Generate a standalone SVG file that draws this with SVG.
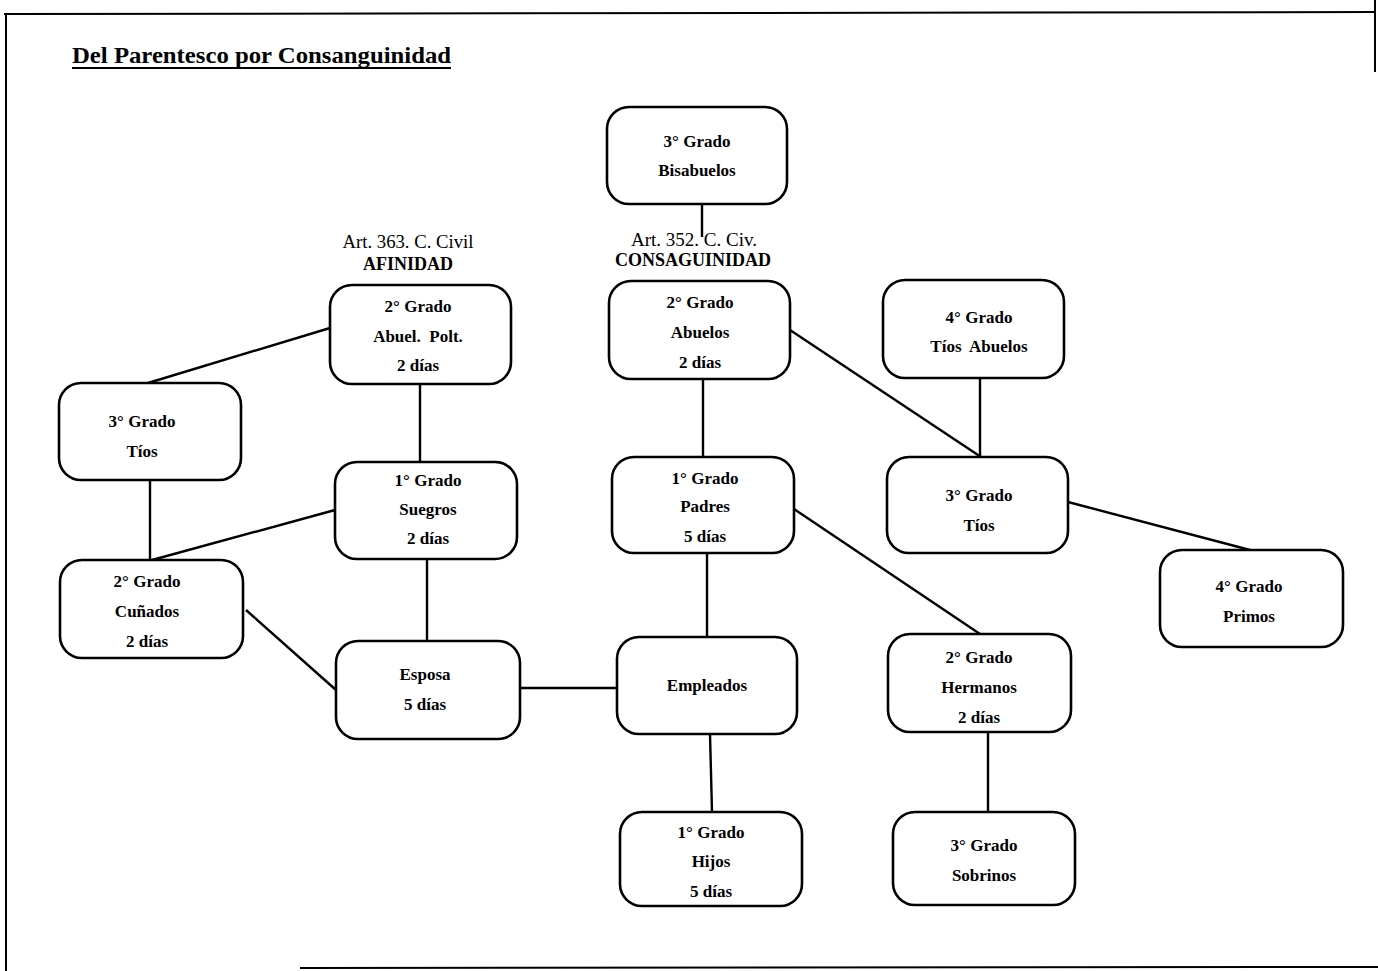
<svg xmlns="http://www.w3.org/2000/svg" width="1378" height="971" viewBox="0 0 1378 971">
<style>
.n rect{fill:#fff;stroke:#000;stroke-width:2.6}
.n text,.h{font-family:"Liberation Serif","Times New Roman",serif;font-weight:bold;font-size:17px;text-anchor:middle;fill:#000}
.h{font-size:18px}
.c line{stroke:#000;stroke-width:2.4}
.b{stroke:#000;stroke-width:2;fill:none}
</style>
<rect width="1378" height="971" fill="#fff"/>
<g id="border">
<line class="b" x1="4" y1="14" x2="1376" y2="12"/>
<line class="b" x1="6" y1="14" x2="6" y2="971"/>
<line class="b" x1="1375" y1="0" x2="1375" y2="72"/>
<line class="b" x1="300" y1="968" x2="1378" y2="967"/>
</g>
<g id="title">
<text x="72" y="63" font-family="'Liberation Serif','Times New Roman',serif" font-weight="bold" font-size="24" textLength="379" lengthAdjust="spacingAndGlyphs" fill="#000">Del Parentesco por Consanguinidad</text>
<line x1="72" y1="68" x2="451" y2="68" stroke="#000" stroke-width="2"/>
</g>
<g id="headers">
<text class="h" x="408" y="248" style="font-weight:normal" textLength="131" lengthAdjust="spacingAndGlyphs">Art. 363. C. Civil</text>
<text class="h" x="408" y="270">AFINIDAD</text>
<text class="h" x="694" y="246" style="font-weight:normal" textLength="126" lengthAdjust="spacingAndGlyphs">Art. 352. C. Civ.</text>
<text class="h" x="693" y="266">CONSAGUINIDAD</text>
</g>
<g class="c" id="connectors">
<line x1="702" y1="204" x2="702" y2="237"/>
<line x1="330" y1="328" x2="148" y2="383"/>
<line x1="420" y1="384" x2="420" y2="462"/>
<line x1="150" y1="480" x2="150" y2="560"/>
<line x1="335" y1="510" x2="152" y2="560"/>
<line x1="427" y1="559" x2="427" y2="641"/>
<line x1="246" y1="610" x2="336" y2="690"/>
<line x1="520" y1="688" x2="617" y2="688"/>
<line x1="703" y1="379" x2="703" y2="457"/>
<line x1="790" y1="330" x2="981" y2="457"/>
<line x1="980" y1="378" x2="980" y2="457"/>
<line x1="707" y1="553" x2="707" y2="637"/>
<line x1="794" y1="509" x2="980" y2="634"/>
<line x1="1068" y1="502" x2="1250" y2="550"/>
<line x1="988" y1="732" x2="988" y2="812"/>
<line x1="710" y1="734" x2="712" y2="812"/>
</g>
<g class="n" id="n-bisabuelos"><rect x="607" y="107" width="180" height="97" rx="22"/><text x="697" y="147">3° Grado</text><text x="697" y="176">Bisabuelos</text></g>
<g class="n" id="n-abuelpolt"><rect x="330" y="285" width="181" height="99" rx="22"/><text x="418" y="312">2° Grado</text><text x="418" y="342" xml:space="preserve">Abuel.  Polt.</text><text x="418" y="371">2 días</text></g>
<g class="n" id="n-abuelos"><rect x="609" y="281" width="181" height="98" rx="22"/><text x="700" y="308">2° Grado</text><text x="700" y="338">Abuelos</text><text x="700" y="368">2 días</text></g>
<g class="n" id="n-tiosabuelos"><rect x="883" y="280" width="181" height="98" rx="22"/><text x="979" y="323">4° Grado</text><text x="979" y="352" xml:space="preserve">Tíos  Abuelos</text></g>
<g class="n" id="n-tios-left"><rect x="59" y="383" width="182" height="97" rx="22"/><text x="142" y="427">3° Grado</text><text x="142" y="457">Tíos</text></g>
<g class="n" id="n-suegros"><rect x="335" y="462" width="182" height="97" rx="22"/><text x="428" y="486">1° Grado</text><text x="428" y="515">Suegros</text><text x="428" y="544">2 días</text></g>
<g class="n" id="n-padres"><rect x="612" y="457" width="182" height="96" rx="22"/><text x="705" y="484">1° Grado</text><text x="705" y="512">Padres</text><text x="705" y="542">5 días</text></g>
<g class="n" id="n-tios-right"><rect x="887" y="457" width="181" height="96" rx="22"/><text x="979" y="501">3° Grado</text><text x="979" y="531">Tíos</text></g>
<g class="n" id="n-primos"><rect x="1160" y="550" width="183" height="97" rx="22"/><text x="1249" y="592">4° Grado</text><text x="1249" y="622">Primos</text></g>
<g class="n" id="n-cunados"><rect x="60" y="560" width="183" height="98" rx="22"/><text x="147" y="587">2° Grado</text><text x="147" y="617">Cuñados</text><text x="147" y="647">2 días</text></g>
<g class="n" id="n-esposa"><rect x="336" y="641" width="184" height="98" rx="22"/><text x="425" y="680">Esposa</text><text x="425" y="710">5 días</text></g>
<g class="n" id="n-empleados"><rect x="617" y="637" width="180" height="97" rx="22"/><text x="707" y="691">Empleados</text></g>
<g class="n" id="n-hermanos"><rect x="888" y="634" width="183" height="98" rx="22"/><text x="979" y="663">2° Grado</text><text x="979" y="693">Hermanos</text><text x="979" y="723">2 días</text></g>
<g class="n" id="n-hijos"><rect x="620" y="812" width="182" height="94" rx="22"/><text x="711" y="838">1° Grado</text><text x="711" y="867">Hijos</text><text x="711" y="897">5 días</text></g>
<g class="n" id="n-sobrinos"><rect x="893" y="812" width="182" height="93" rx="22"/><text x="984" y="851">3° Grado</text><text x="984" y="881">Sobrinos</text></g>
</svg>
